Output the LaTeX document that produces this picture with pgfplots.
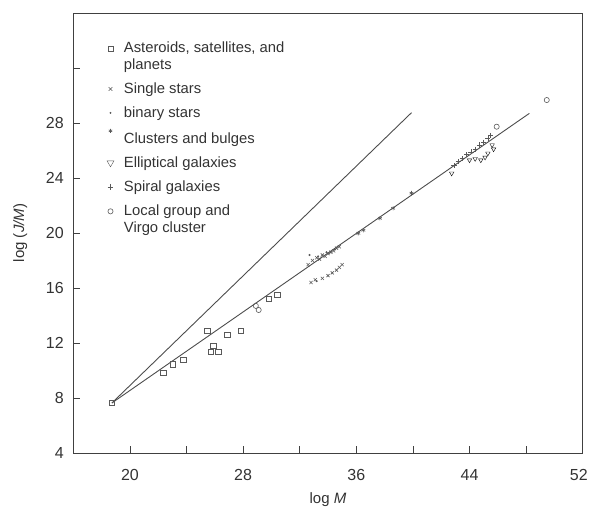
\documentclass[border=0pt]{standalone}
\usepackage{pgfplots}
\pgfplotsset{compat=1.18}
\usepackage{fontspec}
\setmainfont{Liberation Sans}
\pgfplotsset{
  raisedimage/.style={legend image code/.code={\draw[##1] plot coordinates {(0.2cm,8bp)};}},
}
\begin{document}
\begin{tikzpicture}
\begin{axis}[
  name=ax, at={(0,0)}, anchor=south west,
  scale only axis, width=509.4bp, height=440bp,
  xmin=16, xmax=52, ymin=4, ymax=36,
  xtick={20,24,...,52},
  xticklabels={20,{},28,{},{},{},44,{},{\llap{52\kern-5bp}}},
  extra x ticks={36}, extra x tick labels={36},
  extra x tick style={tick align=inside, major tick length=7bp,
    xticklabel style={text=black!80}},
  ytick={4,8,...,32},
  yticklabels={4,8,12,16,20,24,28,{}},
  tick pos=left, tick align=inside, major tick length=7bp,
  /pgf/number format/assume math mode=true,
  ticklabel style={font=\fontsize{16bp}{18bp}\selectfont, text=black!80},
  xticklabel shift=13bp,
  yticklabel shift=6bp,
  xlabel={log \textit{M}}, ylabel={log (\textit{J/M})},
  label style={font=\fontsize{15bp}{17bp}\selectfont, text=black!80},
  xlabel style={at={(axis description cs:0.5,-0.105)}, anchor=center},
  ylabel style={at={(axis description cs:-0.104,0.5)}, anchor=center},
  axis line style={black!75, line width=0.9pt},
  every tick/.style={black!75, line width=0.8pt},
  legend style={at={(rel axis cs:0.06,0.944)}, anchor=north west, draw=none, fill=none,
    font=\fontsize{14.8bp}{17bp}\selectfont, text=black!80, row sep=7.8bp,
    column sep=8bp, cells={align=left}},
  legend cell align=left,
  legend image code/.code={\draw[#1] plot coordinates {(0.2cm,0cm)};},
  mark options={black!65, line width=0.6pt},
]
% legend entries
\addlegendimage{only marks, mark=square, mark size=2.6pt, black!65, raisedimage}
\addlegendentry{Asteroids, satellites, and\\planets}
\addlegendimage{only marks, mark=x, mark size=2.6pt, black!65}
\addlegendentry{Single stars}
\addlegendimage{only marks, mark=*, mark size=0.6pt, black!55}
\addlegendentry{binary stars}
\addlegendimage{only marks, mark=asterisk, mark size=2pt, black!65, raisedimage}
\addlegendentry{Clusters and bulges}
\addlegendimage{only marks, mark=triangle, mark options={rotate=180}, mark size=4pt, black!65}
\addlegendentry{Elliptical galaxies}
\addlegendimage{only marks, mark=+, mark size=3pt, black!65}
\addlegendentry{Spiral galaxies}
\addlegendimage{only marks, mark=o, mark size=2.6pt, black!65, raisedimage}
\addlegendentry{Local group and\\Virgo cluster}
% lines
\addplot[black!70, line width=0.9pt, forget plot] coordinates {(18.73,7.64) (48.23,28.7)};
\addplot[black!70, line width=0.9pt, forget plot] coordinates {(18.73,7.64) (39.9,28.75)};
% asteroids, satellites, planets
\addplot[only marks, mark=square, mark size=2.6pt, forget plot] coordinates {
(18.73,7.64) (22.36,9.84) (23.02,10.45) (23.77,10.76) (25.47,12.87) (26.88,12.58)
(27.83,12.9) (25.89,11.78) (25.71,11.37) (26.25,11.37) (29.83,15.2) (30.42,15.49)};
% single stars
\addplot[only marks, mark=x, mark size=2.2pt, forget plot] coordinates {
(32.8,16.4) (33.1,16.6) (33.6,16.7) (34.0,16.9) (34.3,17.1) (34.6,17.3) (34.8,17.5) (35.0,17.7)
(32.6,17.7) (32.9,18.0) (33.2,18.2) (33.4,18.1) (33.6,18.4) (33.8,18.3) (34.0,18.5)
(34.2,18.6) (34.4,18.7) (34.6,18.9) (34.8,19.0)};
% binary stars
\addplot[only marks, mark=*, mark size=0.7pt, forget plot] coordinates {
(32.7,18.4) (33.3,18.3) (33.9,18.6) (34.5,18.8) (33.2,16.5)};
% clusters and bulges
\addplot[only marks, mark=asterisk, mark size=2.2pt, forget plot] coordinates {
(36.14,19.98) (36.5,20.2) (37.67,21.07) (38.6,21.8) (39.9,22.9)};
% elliptical galaxies
\addplot[only marks, mark=triangle, mark size=2.6pt, mark options={rotate=180}, forget plot] coordinates {
(42.74,24.34) (44.0,25.3) (44.4,25.4) (44.8,25.3) (45.1,25.5) (45.3,25.8) (45.6,26.4) (45.7,26.1)};
% spiral galaxies
\addplot[only marks, mark=+, mark size=2.6pt, forget plot] coordinates {
(42.9,24.9) (43.2,25.2) (43.5,25.4) (43.8,25.7) (44.1,25.9) (44.4,26.1) (44.7,26.4)
(45.0,26.6) (45.3,26.9) (45.5,27.1)};
% local group and Virgo cluster
\addplot[only marks, mark=o, mark size=2.6pt, forget plot] coordinates {
(28.9,14.7) (29.1,14.4) (45.92,27.73) (49.46,29.67)};
\end{axis}
\pgfresetboundingbox
\path[use as bounding box] (-73.3bp,-54bp) rectangle (515.7bp,453bp);
\end{tikzpicture}
\end{document}
